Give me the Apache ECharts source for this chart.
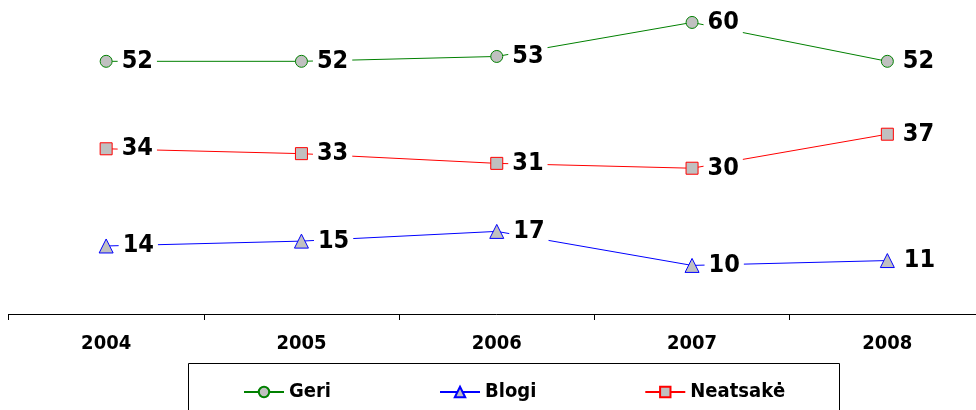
<!DOCTYPE html>
<html>
<head>
<meta charset="utf-8">
<script src="https://cdn.jsdelivr.net/npm/echarts@6/dist/echarts.min.js"></script>
<style>html,body{margin:0;padding:0;background:#fff;overflow:hidden}#c{width:990px;height:410px}</style>
</head>
<body>
<div id="c"></div>
<script>
const categories = ['2004', '2005', '2006', '2007', '2008'];
const geri = [52, 52, 53, 60, 52];
const blogi = [14, 15, 17, 10, 11];
const neatsake = [34, 33, 31, 30, 37];

const FONT = "'DejaVu Sans Condensed', 'DejaVu Sans', sans-serif";
const chart = echarts.init(document.getElementById('c'), null, {renderer: 'canvas'});

function mkSeries(name, data, color, symbol, size) {
  return {
    name: name, type: 'line', data: data, symbol: symbol, symbolSize: size,
    showAllSymbol: true, animation: false,
    lineStyle: {color: color, width: 1},
    itemStyle: {color: '#c0c0c0', borderColor: color, borderWidth: 1},
    label: {
      show: true, position: 'right', distance: 5,
      fontFamily: FONT, fontWeight: 'bold', fontSize: 25, color: '#000',
      backgroundColor: '#fff', padding: [0, 4]
    },
    emphasis: {disabled: true}
  };
}

chart.setOption({
  animation: false,
  grid: {left: 8.5, width: 976.5, top: 3, height: 311, containLabel: false},
  xAxis: {
    type: 'category', data: categories, boundaryGap: true,
    axisLine: {show: true, lineStyle: {color: '#000', width: 1}},
    axisTick: {show: true, length: 6, lineStyle: {color: '#000'}},
    axisLabel: {fontFamily: FONT, fontWeight: 'bold', fontSize: 20, color: '#000', margin: 20},
    splitLine: {show: false}
  },
  yAxis: {
    type: 'value', min: 0, max: 64, show: false, splitLine: {show: false}
  },
  legend: {
    left: 238, top: 377, itemGap: 108, itemWidth: 40, itemHeight: 13,
    data: ['Geri', 'Blogi', 'Neatsakė'],
    textStyle: {fontFamily: FONT, fontWeight: 'bold', fontSize: 20, color: '#000'},
    selectedMode: false
  },
  graphic: [{
    type: 'rect', shape: {x: 188.5, y: 363.5, width: 651, height: 60},
    style: {fill: 'none', stroke: '#000', lineWidth: 1}, z: -1
  }],
  series: [
    mkSeries('Geri', geri, '#008000', 'circle', 12),
    mkSeries('Blogi', blogi, '#0000ff', 'triangle', 14),
    mkSeries('Neatsakė', neatsake, '#ff0000', 'rect', 12)
  ]
});
</script>
</body>
</html>
